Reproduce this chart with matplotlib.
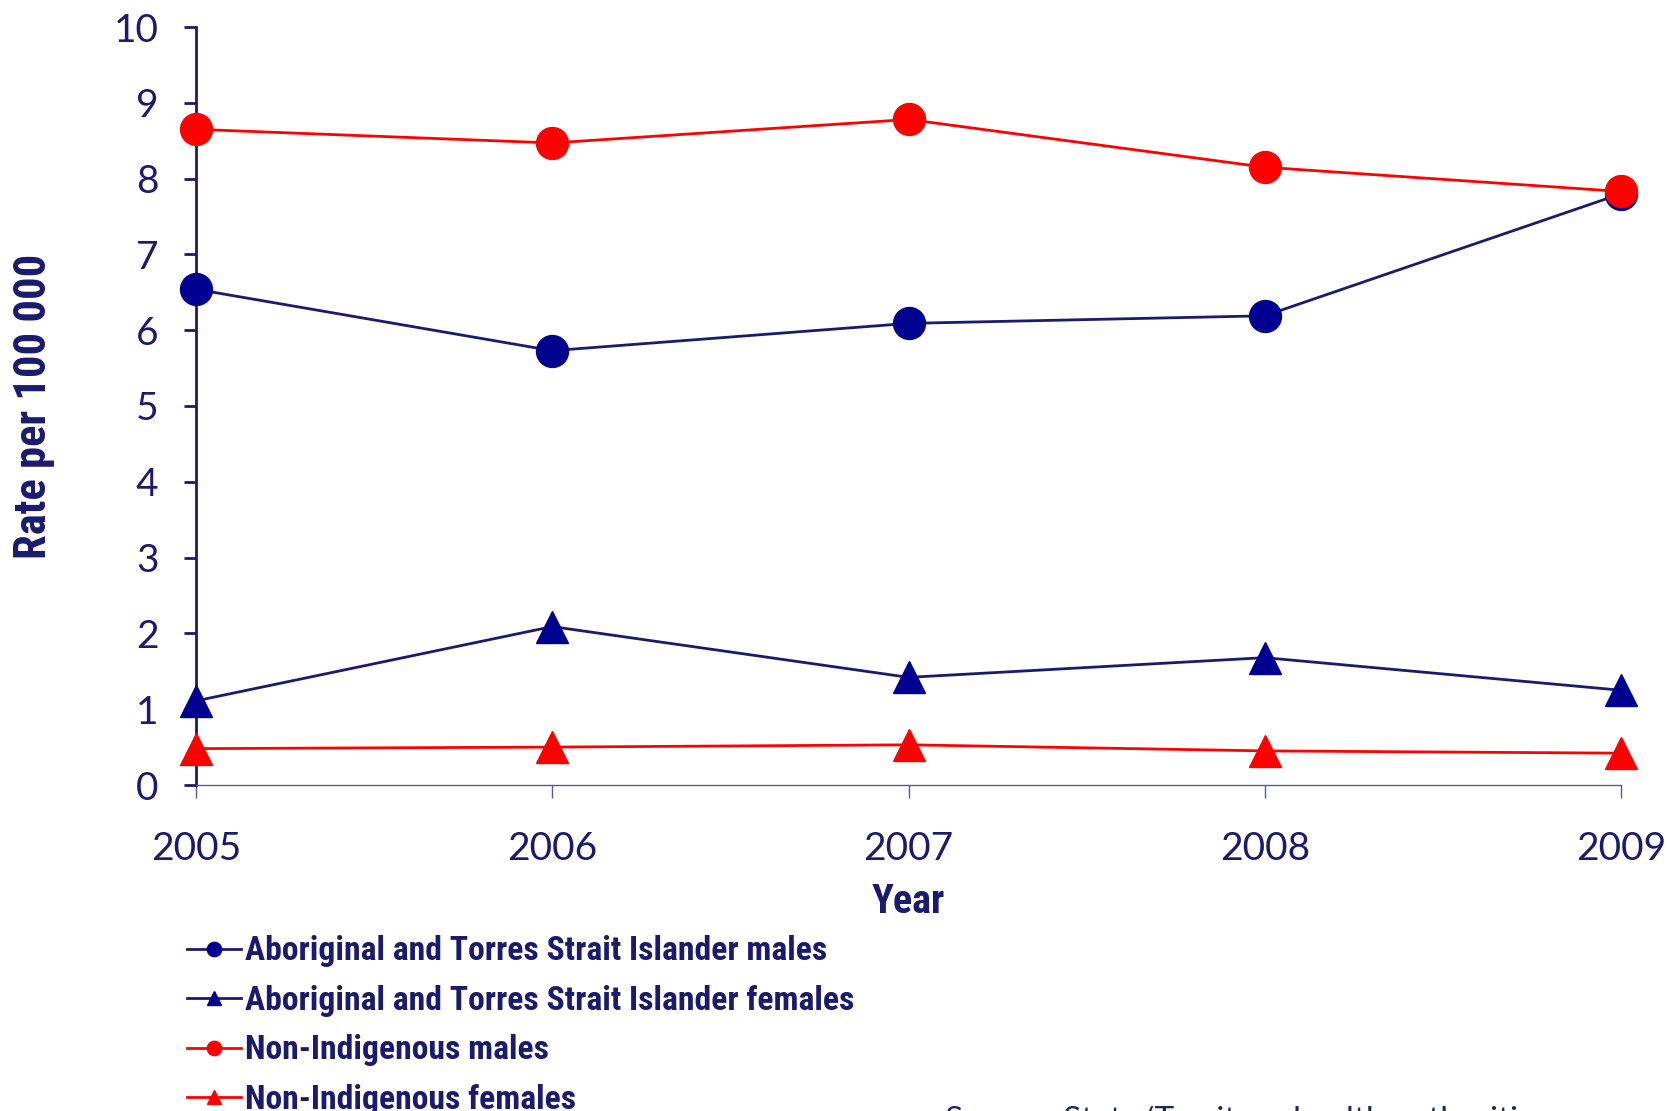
import numpy as np
import matplotlib
matplotlib.use('Agg')
import matplotlib.pyplot as plt

years = [2005, 2006, 2007, 2008, 2009]
abor_males = [6.54, 5.73, 6.09, 6.19, 7.80]
abor_females = [1.11, 2.09, 1.42, 1.68, 1.25]
nonind_males = [8.65, 8.47, 8.78, 8.15, 7.83]
nonind_females = [0.48, 0.50, 0.53, 0.45, 0.42]
labels = ['Aboriginal and Torres Strait Islander males',
          'Aboriginal and Torres Strait Islander females',
          'Non-Indigenous males',
          'Non-Indigenous females']

navy = '#1a1a6e'
navy_mk = '#000090'
red = '#ff0000'
bold_font = ['Roboto Condensed', 'Roboto', 'DejaVu Sans']
tick_font = ['Lato', 'DejaVu Sans']

fig = plt.figure(figsize=(16.68, 11.11), dpi=100)
ax = fig.add_axes([196 / 1668, 1 - 785 / 1111, (1621 - 196) / 1668, (785 - 27) / 1111])

ax.plot(years, abor_males, color=navy, lw=2, marker='o', ms=23, mfc=navy_mk, mec=navy_mk, label=labels[0], clip_on=False, zorder=3)
ax.plot(years, abor_females, color=navy, lw=2, marker='^', ms=23, mfc=navy_mk, mec=navy_mk, label=labels[1], clip_on=False, zorder=3)
ax.plot(years, nonind_males, color=red, lw=2, marker='o', ms=23, mfc=red, mec=red, label=labels[2], clip_on=False, zorder=4)
ax.plot(years, nonind_females, color=red, lw=2, marker='^', ms=23, mfc=red, mec=red, label=labels[3], clip_on=False, zorder=4)

ax.set_xlim(2005, 2009)
ax.set_ylim(0, 10)
ax.set_xticks(years)
ax.set_yticks(range(0, 11))
for s in ['top', 'right']:
    ax.spines[s].set_visible(False)
ax.spines['left'].set_color(navy)
ax.spines['left'].set_linewidth(2)
ax.spines['bottom'].set_color('#5a5a90')
ax.spines['bottom'].set_linewidth(1)
ax.tick_params(axis='y', length=9, width=2, color=navy, pad=18, labelcolor=navy, labelsize=28)
ax.tick_params(axis='x', length=9, width=1, color='#5a5a90', pad=24, labelcolor=navy, labelsize=28)
for t in ax.get_xticklabels() + ax.get_yticklabels():
    t.set_family(tick_font)

ax.set_ylabel('Rate per 100 000', family=bold_font, fontweight='bold', fontsize=32, color=navy, labelpad=42)
ax.set_xlabel('Year', family=bold_font, fontweight='bold', fontsize=29, color=navy, labelpad=12)

leg = ax.legend(loc='upper left', bbox_to_anchor=(174 / 1668, 1 - 922 / 1111), bbox_transform=fig.transFigure,
                frameon=False, markerscale=0.45, handlelength=1.6, handletextpad=0.1, labelspacing=0.52,
                borderaxespad=0, prop={'family': bold_font, 'weight': 'bold', 'size': 24.2})
for t in leg.get_texts():
    t.set_color(navy)

fig.text(945 / 1668, 1 - 1106 / 1111, 'Source: State/Territory health authorities', family=tick_font,
         fontsize=24, color='#1a2a5e', va='top', ha='left')

fig.savefig('out.png', dpi=100)
